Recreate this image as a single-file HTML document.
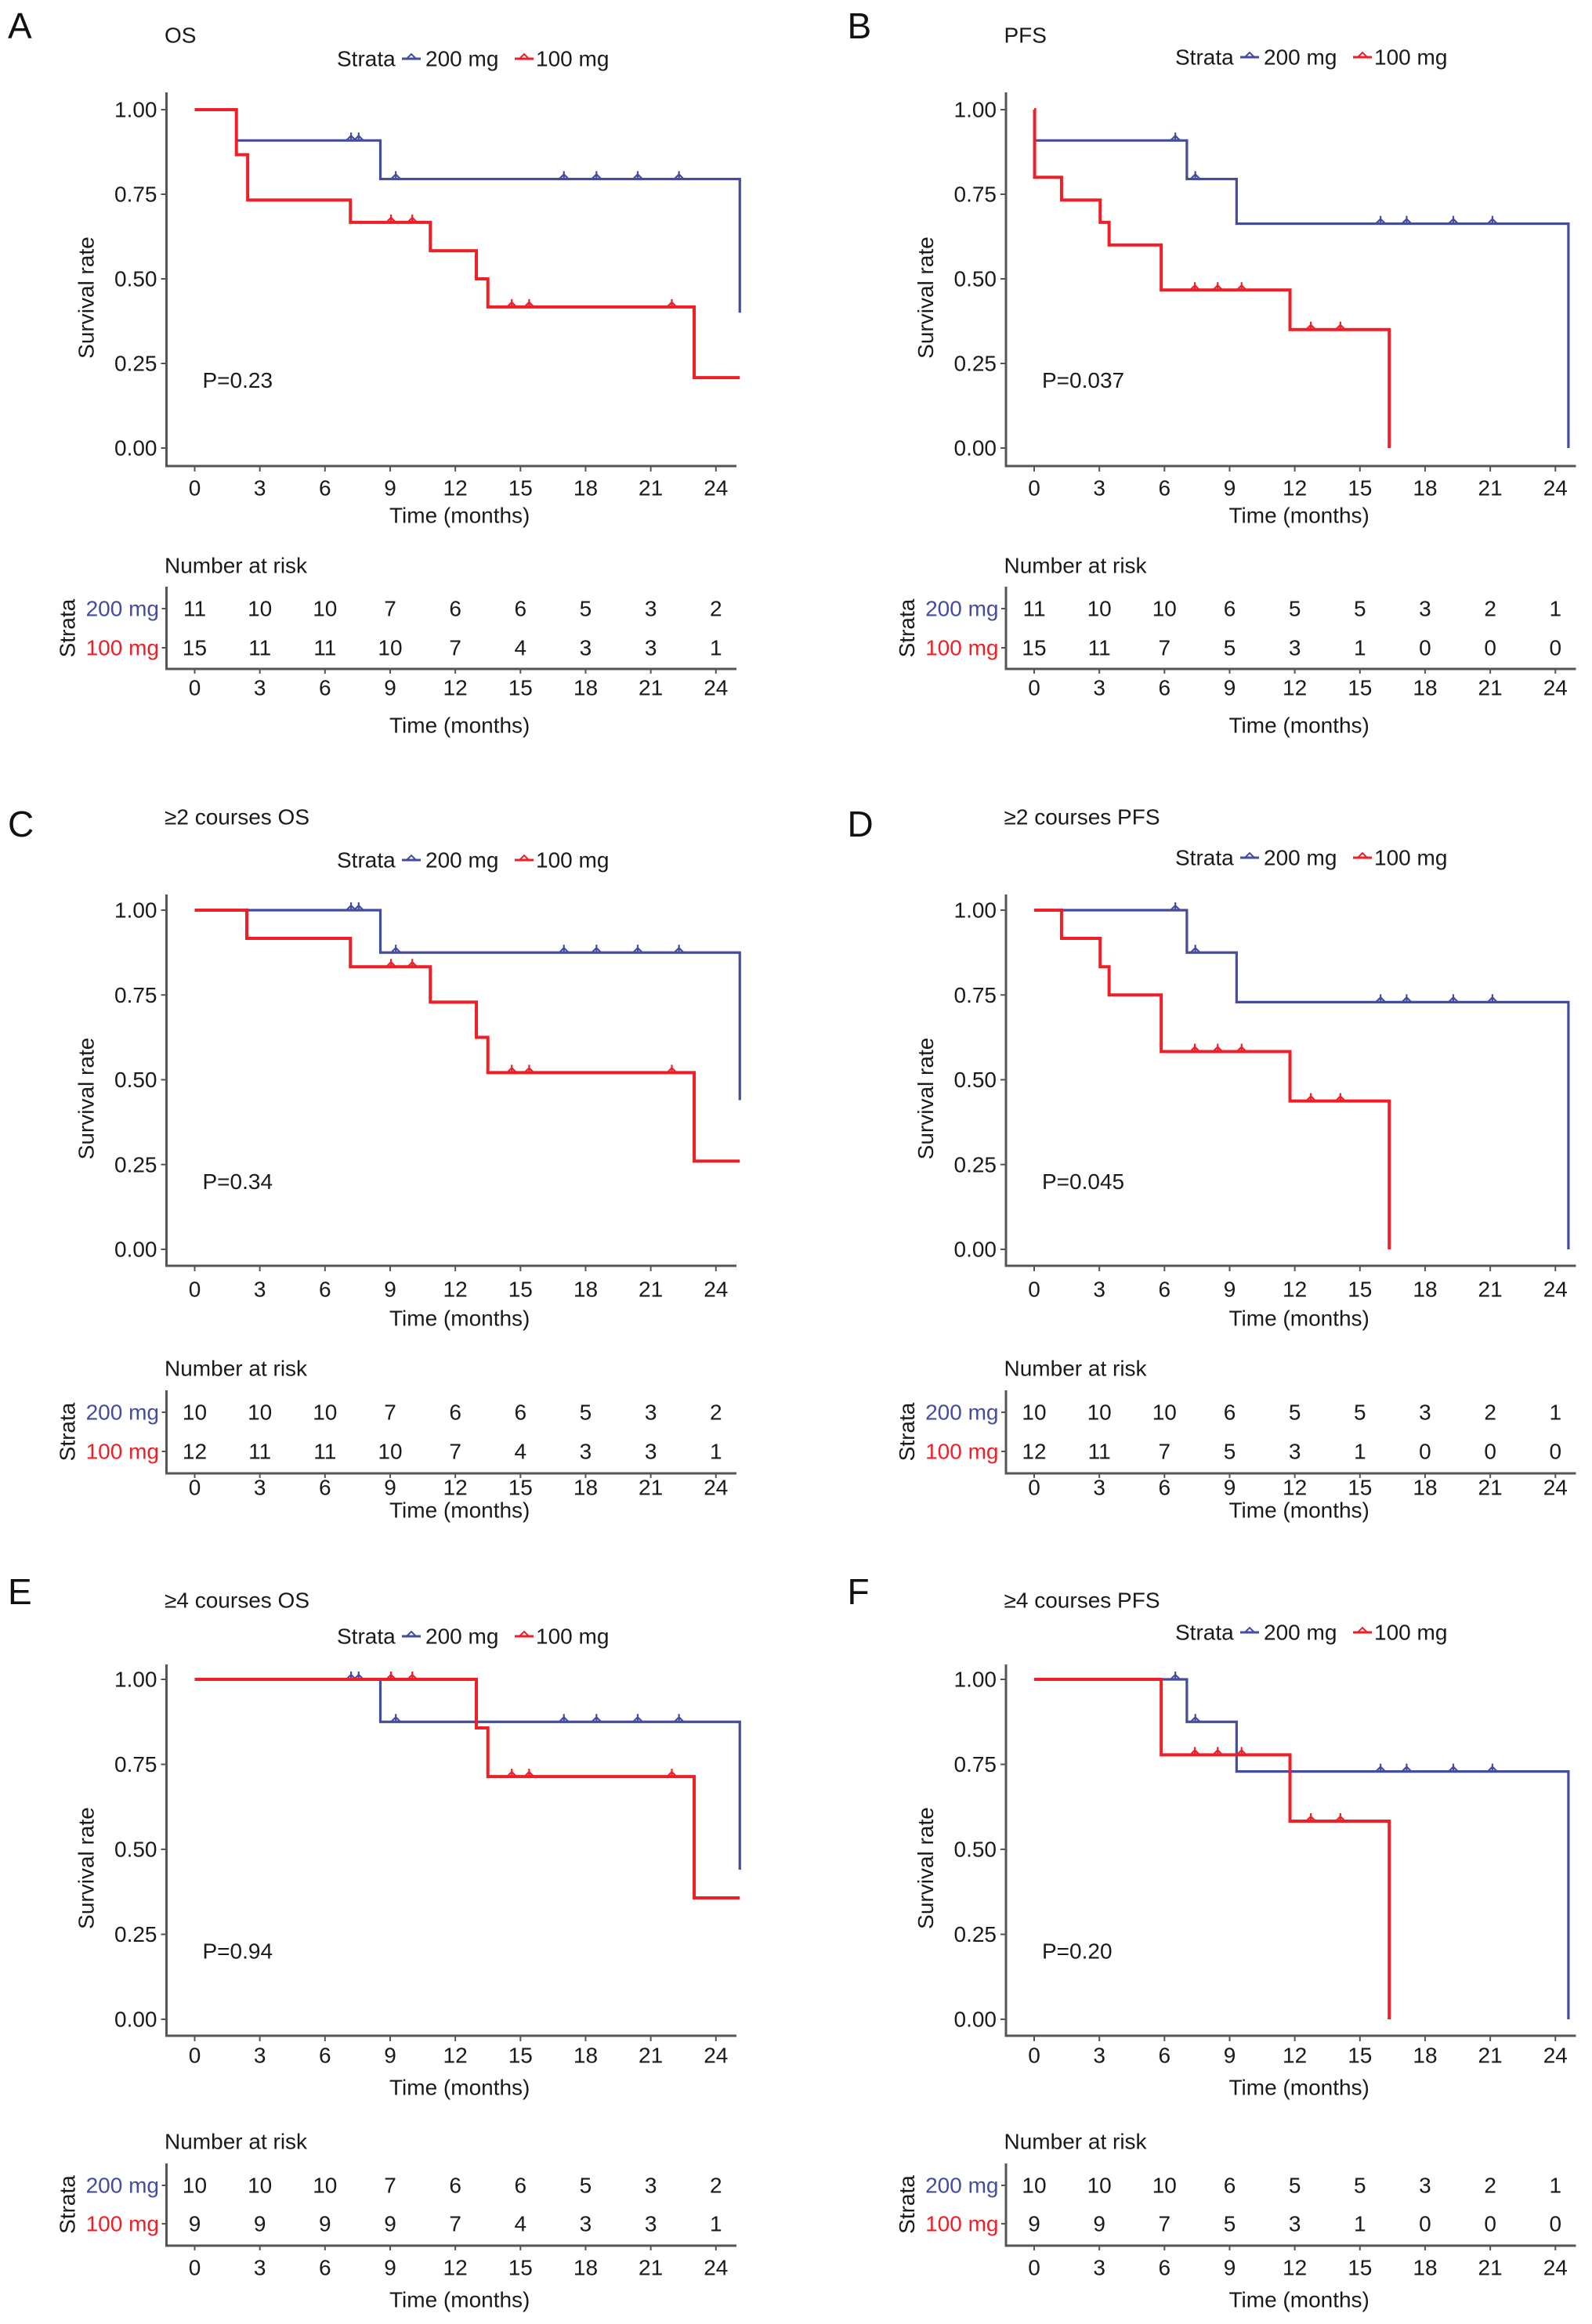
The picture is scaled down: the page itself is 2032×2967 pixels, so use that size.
<!DOCTYPE html>
<html><head><meta charset="utf-8"><style>
html,body{margin:0;padding:0;background:#fff;}
svg{display:block;font-family:"Liberation Sans",sans-serif;}
</style></head><body>
<svg id="fig" width="2032" height="2967" viewBox="0 0 2032 2967" xmlns="http://www.w3.org/2000/svg"></svg>
<script>
// ---- data (months / survival probability / counts) ----
const xTicks = [0,3,6,9,12,15,18,21,24];
const yTicks = [0,0.25,0.5,0.75,1];
const yTickLabels = ["0.00","0.25","0.50","0.75","1.00"];

const A_blueT = [0,1.92,8.55,25.1];   const A_blueS = [1,0.909,0.795,0.40];  const A_blueEnd = 25.1;
const A_blueCensT = [7.2,7.55,9.26,17.0,18.5,20.4,22.3];
const A_redT = [0,1.92,2.44,7.17,10.85,12.97,13.5,23.0]; const A_redS = [1,0.867,0.733,0.667,0.583,0.5,0.417,0.208]; const A_redEnd = 25.1;
const A_redCensT = [9.04,10.02,14.6,15.4,21.97];
const A_risk200 = [11,10,10,7,6,6,5,3,2];
const A_risk100 = [15,11,11,10,7,4,3,3,1];

const B_blueT = [0,0.02,7.03,9.32,24.6]; const B_blueS = [1,0.909,0.795,0.663,0]; const B_blueEnd = 24.6;
const B_blueCensT = [6.5,7.42,15.95,17.15,19.3,21.1];
const B_redT = [0,0.02,1.26,3.04,3.45,5.85,11.78,16.35]; const B_redS = [1,0.8,0.733,0.667,0.6,0.467,0.35,0]; const B_redEnd = 16.35;
const B_redCensT = [7.4,8.45,9.55,12.74,14.1];
const B_risk200 = [11,10,10,6,5,5,3,2,1];
const B_risk100 = [15,11,7,5,3,1,0,0,0];

const C_blueT = [0,8.55,25.1]; const C_blueS = [1,0.875,0.44]; const C_blueEnd = 25.1;
const C_blueCensT = [7.2,7.55,9.26,17.0,18.5,20.4,22.3];
const C_redT = [0,2.4,7.17,10.85,12.97,13.5,23.0]; const C_redS = [1,0.917,0.833,0.729,0.625,0.521,0.26]; const C_redEnd = 25.1;
const C_redCensT = [9.04,10.02,14.6,15.4,21.97];
const C_risk200 = [10,10,10,7,6,6,5,3,2];
const C_risk100 = [12,11,11,10,7,4,3,3,1];

const D_blueT = [0,7.03,9.32,24.6]; const D_blueS = [1,0.875,0.729,0]; const D_blueEnd = 24.6;
const D_blueCensT = [6.5,7.42,15.95,17.15,19.3,21.1];
const D_redT = [0,1.26,3.04,3.45,5.85,11.78,16.35]; const D_redS = [1,0.917,0.833,0.75,0.583,0.4375,0]; const D_redEnd = 16.35;
const D_redCensT = [7.4,8.45,9.55,12.74,14.1];
const D_risk200 = [10,10,10,6,5,5,3,2,1];
const D_risk100 = [12,11,7,5,3,1,0,0,0];

const E_blueT = [0,8.55,25.1]; const E_blueS = [1,0.875,0.44]; const E_blueEnd = 25.1;
const E_blueCensT = [7.2,7.55,9.26,17.0,18.5,20.4,22.3];
const E_redT = [0,12.97,13.5,23.0]; const E_redS = [1,0.857,0.714,0.357]; const E_redEnd = 25.1;
const E_redCensT = [9.04,10.02,14.6,15.4,21.97];
const E_risk200 = [10,10,10,7,6,6,5,3,2];
const E_risk100 = [9,9,9,9,7,4,3,3,1];

const F_blueT = [0,7.03,9.32,24.6]; const F_blueS = [1,0.875,0.729,0]; const F_blueEnd = 24.6;
const F_blueCensT = [6.5,7.42,15.95,17.15,19.3,21.1];
const F_redT = [0,5.85,11.78,16.35]; const F_redS = [1,0.778,0.583,0]; const F_redEnd = 16.35;
const F_redCensT = [7.4,8.45,9.55,12.74,14.1];
const F_risk200 = [10,10,10,6,5,5,3,2,1];
const F_risk100 = [9,9,7,5,3,1,0,0,0];

const titles = ["OS","PFS","\u22652 courses OS","\u22652 courses PFS","\u22654 courses OS","\u22654 courses PFS"];
const pvals = ["P=0.23","P=0.037","P=0.34","P=0.045","P=0.94","P=0.20"];
const letters = ["A","B","C","D","E","F"];

// ---- layout ----
const BLUE="#444c9e", RED="#ee1f26", AX="#555", TXT="#1a1a1a", FS=28;
const rows = [
 {letter:33,title:45,legL:75,legR:73,y1:140,y0:572,axis:595,top:118,tick:623,xlab:658,nar:722,r1:777,r2:827,tAxis:854,tTick:878,tXlab:926},
 {letter:1052,title:1043,legL:1098,legR:1095,y1:1162,y0:1595,axis:1616,top:1142,tick:1646,xlab:1683,nar:1747,r1:1803,r2:1853,tAxis:1881,tTick:1899,tXlab:1928},
 {letter:2032,title:2043,legL:2089,legR:2084,y1:2144,y0:2578,axis:2599,top:2125,tick:2624,xlab:2665,nar:2734,r1:2790,r2:2839,tAxis:2867,tTick:2895,tXlab:2936}
];
const svg = document.getElementById('fig');
const NS = "http://www.w3.org/2000/svg";
function mk(tag, attrs, parent, text){
  const e = document.createElementNS(NS, tag);
  for (const k in attrs) e.setAttribute(k, attrs[k]);
  if (text !== undefined) e.textContent = text;
  (parent||svg).appendChild(e);
  return e;
}
function txt(parent,x,y,s,size,anchor,fill,name){
  const t = mk('text',{x:x,y:y,'font-size':size,'text-anchor':anchor||'start','dominant-baseline':'central',fill:fill||TXT},parent,s);
  
  
  return t;
}
function survAt(T,S,t){ let v=S[0]; for(let i=0;i<T.length;i++){ if(T[i]<=t) v=S[i]; } return v; }

const panelData = [
 [A_blueT,A_blueS,A_blueEnd,A_blueCensT,A_redT,A_redS,A_redEnd,A_redCensT,A_risk200,A_risk100],
 [B_blueT,B_blueS,B_blueEnd,B_blueCensT,B_redT,B_redS,B_redEnd,B_redCensT,B_risk200,B_risk100],
 [C_blueT,C_blueS,C_blueEnd,C_blueCensT,C_redT,C_redS,C_redEnd,C_redCensT,C_risk200,C_risk100],
 [D_blueT,D_blueS,D_blueEnd,D_blueCensT,D_redT,D_redS,D_redEnd,D_redCensT,D_risk200,D_risk100],
 [E_blueT,E_blueS,E_blueEnd,E_blueCensT,E_redT,E_redS,E_redEnd,E_redCensT,E_risk200,E_risk100],
 [F_blueT,F_blueS,F_blueEnd,F_blueCensT,F_redT,F_redS,F_redEnd,F_redCensT,F_risk200,F_risk100]
];

for (let p=0;p<6;p++){
  const r = rows[Math.floor(p/2)];
  const dx = (p%2) ? 1071.5 : 0;
  const x0 = 248.5 + dx, pxm = 27.72;
  const xs = t => x0 + t*pxm;
  const ys = v => r.y0 - v*(r.y0 - r.y1);
  const axL = 212.5 + dx, axR = 940 + dx;
  const g = mk('g',{});
  
  
  txt(g, 10+dx, r.letter, letters[p], 46, 'start', '#111', 'panel-letter');
  txt(g, 210+dx, r.title, titles[p], FS, 'start', TXT, 'panel-title');
  const lx = (p%2) ? 1500 : 430;
  const ly = (p%2) ? r.legR : r.legL;
  const lg = mk('g',{},g);
  
  
  txt(lg, lx, ly, 'Strata', FS, 'start', TXT, 'legend-title');
  mk('line',{x1:lx+83,y1:ly,x2:lx+107,y2:ly,stroke:BLUE,'stroke-width':3},lg);
  mk('path',{d:`M${lx+89} ${ly} L${lx+95} ${ly-6} L${lx+101} ${ly}`,stroke:BLUE,'stroke-width':2,fill:'none'},lg);
  txt(lg, lx+113, ly, '200 mg', FS, 'start', TXT, 'legend-entry-200mg');
  mk('line',{x1:lx+227,y1:ly,x2:lx+251,y2:ly,stroke:RED,'stroke-width':3},lg);
  mk('path',{d:`M${lx+233} ${ly} L${lx+239} ${ly-6} L${lx+245} ${ly}`,stroke:RED,'stroke-width':2,fill:'none'},lg);
  txt(lg, lx+254, ly, '100 mg', FS, 'start', TXT, 'legend-entry-100mg');
  const ya = mk('line',{x1:axL,y1:r.top,x2:axL,y2:r.axis+1.5,stroke:AX,'stroke-width':3},g);
   
  const xa = mk('line',{x1:axL-1.5,y1:r.axis,x2:axR,y2:r.axis,stroke:AX,'stroke-width':3},g);
   
  yTicks.forEach((v,i)=>{
    mk('line',{x1:axL-7,y1:ys(v),x2:axL,y2:ys(v),stroke:AX,'stroke-width':2},g);
    txt(g, axL-12, ys(v), yTickLabels[i], FS, 'end', TXT, 'y-tick-label');
  });
  xTicks.forEach(t=>{
    mk('line',{x1:xs(t),y1:r.axis,x2:xs(t),y2:r.axis+7,stroke:AX,'stroke-width':2},g);
    txt(g, xs(t), r.tick, String(t), FS, 'middle', TXT, 'x-tick-label');
  });
  txt(g, xs(12.2), r.xlab, 'Time (months)', FS, 'middle', TXT, 'x-axis-title');
  const yl = txt(g, 0, 0, 'Survival rate', FS, 'middle', TXT, 'y-axis-title');
  yl.setAttribute('transform', `translate(${110+dx},${(r.y0+r.y1)/2+24}) rotate(-90)`);
  txt(g, x0+10, ys(0.2), pvals[p], FS, 'start', TXT, 'p-value');
  const d = panelData[p];
  const curves = [[d[0],d[1],d[2],d[3],BLUE,3.2,'curve-200mg'],[d[4],d[5],d[6],d[7],RED,4,'curve-100mg']];
  curves.forEach(c=>{
    const [T,S,end,cens,col,w,name] = c;
    let path = `M${xs(T[0])} ${ys(S[0])}`;
    for (let i=1;i<T.length;i++){ path += ` H${xs(T[i])} V${ys(S[i])}`; }
    path += ` H${xs(end)}`;
    const pe = mk('path',{d:path,stroke:col,'stroke-width':w,fill:'none','stroke-linejoin':'miter'},g);
    
    
    cens.forEach(t=>{
      const cx = xs(t), cy = ys(survAt(T,S,t));
      const cm = mk('path',{d:`M${cx-6} ${cy} L${cx} ${cy-6} L${cx+6} ${cy} M${cx} ${cy} V${cy-10}`,stroke:col,'stroke-width':2.2,fill:'none'},g);
      
      
    });
  });
  const tg = mk('g',{},g);
  
  
  txt(tg, 210+dx, r.nar, 'Number at risk', FS, 'start', TXT, 'risk-table-title');
  mk('line',{x1:axL,y1:r.r1-28,x2:axL,y2:r.tAxis+1.5,stroke:AX,'stroke-width':3},tg);
  mk('line',{x1:axL-1.5,y1:r.tAxis,x2:axR,y2:r.tAxis,stroke:AX,'stroke-width':3},tg);
  mk('line',{x1:axL-6,y1:r.r1,x2:axL,y2:r.r1,stroke:AX,'stroke-width':2},tg);
  mk('line',{x1:axL-6,y1:r.r2,x2:axL,y2:r.r2,stroke:AX,'stroke-width':2},tg);
  txt(tg, 203+dx, r.r1, '200 mg', FS, 'end', BLUE, 'risk-row-label-200mg');
  txt(tg, 203+dx, r.r2, '100 mg', FS, 'end', RED, 'risk-row-label-100mg');
  const st = txt(tg, 0, 0, 'Strata', FS, 'middle', TXT, 'risk-strata-label');
  st.setAttribute('transform', `translate(${86+dx},${(r.r1+r.r2)/2}) rotate(-90)`);
  xTicks.forEach((t,i)=>{
    txt(tg, xs(t), r.r1, String(d[8][i]), FS, 'middle', TXT, 'risk-count-200mg');
    txt(tg, xs(t), r.r2, String(d[9][i]), FS, 'middle', TXT, 'risk-count-100mg');
    mk('line',{x1:xs(t),y1:r.tAxis,x2:xs(t),y2:r.tAxis+6,stroke:AX,'stroke-width':2},tg);
    txt(tg, xs(t), r.tTick, String(t), FS, 'middle', TXT, 'risk-x-tick-label');
  });
  txt(tg, xs(12.2), r.tXlab, 'Time (months)', FS, 'middle', TXT, 'risk-x-axis-title');
}
</script>
</body></html>
